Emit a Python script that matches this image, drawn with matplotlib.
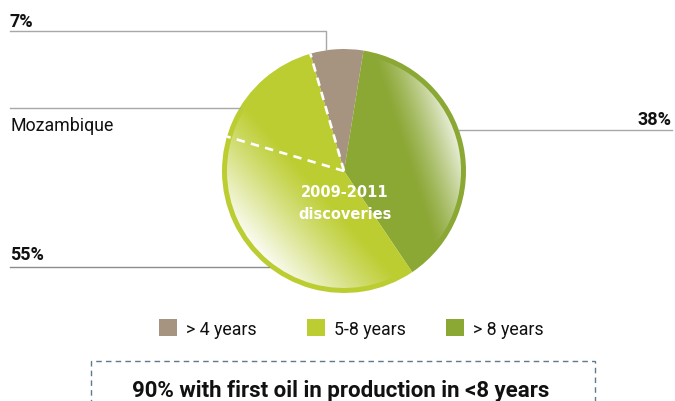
import numpy as np
import matplotlib
matplotlib.use("Agg")
import matplotlib.pyplot as plt
from matplotlib.patches import Wedge, Rectangle

# ---- data ----
categories = ["> 4 years", "> 8 years", "5-8 years"]
legend_order = ["> 4 years", "5-8 years", "> 8 years"]
values = [7, 38, 55]
pct_labels = ["7%", "38%", "55%"]
mozambique_share = 16  # part of the 5-8 years slice, adjacent to > 4 years
colors = {"> 4 years": "#A69480", "> 8 years": "#8BA734", "5-8 years": "#BCCD31"}
center_text = "2009-2011\ndiscoveries"
box_text = "90% with first oil in production in <8 years"

W, H = 675, 401

fig = plt.figure(figsize=(W / 100, H / 100), dpi=100)
ax = fig.add_axes([0, 0, 1, 1])

def Y(y):
    return H - y

cx, cy, R = 344, Y(171), 122
r_in = R - 5
start = 106

wedges, _ = ax.pie(values, colors=[colors[c] for c in categories], startangle=start,
                   counterclock=False, center=(cx, cy), radius=R,
                   wedgeprops=dict(linewidth=0))

# gradient highlights (decoration)
n = 600
xs = np.linspace(-1, 1, n)
U, V = np.meshgrid(xs, xs[::-1])

def overlay(w, alpha):
    img = np.ones((n, n, 4))
    img[..., 3] = alpha
    im = ax.imshow(img, extent=[cx - R, cx + R, cy - R, cy + R], zorder=3,
                   interpolation="bilinear")
    clip = Wedge((cx, cy), r_in, w.theta1, w.theta2, transform=ax.transData)
    im.set_clip_path(clip)

# light green: white towards lower-left
proj = -(0.75 * U + 0.66 * V)
overlay(wedges[2], np.clip((proj - 0.25) / 0.75, 0, 1) ** 1.1)
# dark green: white towards right rim
proj2 = 0.93 * U + 0.3 * V
overlay(wedges[1], 0.9 * np.clip((proj2 - 0.5) / 0.48, 0, 1) ** 1.3)

# dashed white lines
def radial(theta):
    t = np.deg2rad(theta)
    ax.plot([cx, cx + R * np.cos(t)], [cy, cy + R * np.sin(t)], color="white",
            lw=1.9, dashes=(3.2, 2.4), zorder=4, dash_capstyle="butt")

radial(start)
radial(start + mozambique_share / 100 * 360)

# leader lines
lc = "#A8A8A8"
def edge_x(y_top, side):
    dy = Y(y_top) - cy
    return cx + side * np.sqrt(R ** 2 - dy ** 2)

def edge_y(x):
    dx = x - cx
    return cy + np.sqrt(R ** 2 - dx ** 2)

ax.plot([10, 326, 326], [Y(31), Y(31), edge_y(326)], color=lc, lw=1, zorder=1)
ax.plot([10, edge_x(108, -1)], [Y(108), Y(108)], color=lc, lw=1, zorder=1)
ax.plot([edge_x(130, 1), 672], [Y(130), Y(130)], color=lc, lw=1, zorder=1)
ax.plot([10, edge_x(267, -1)], [Y(267), Y(267)], color="#8C8C8C", lw=1, zorder=1)

tc = "#111111"
pf = dict(fontsize=13, fontweight="bold", family="Roboto", color=tc, va="baseline")
ax.text(10, Y(27), pct_labels[0], ha="left", **pf)
ax.text(672, Y(125), pct_labels[1], ha="right", **pf)
ax.text(10, Y(260), pct_labels[2], ha="left", **pf)
ax.text(11, Y(131), "Mozambique", fontsize=12.8, family="Roboto", color=tc,
        va="baseline", ha="left")

# center text
lines = center_text.split("\n")
ax.text(345, Y(197), lines[0], fontsize=10.5, fontweight="bold",
        family="DejaVu Sans", color="white", ha="center", va="baseline", zorder=5)
ax.text(345, Y(219), lines[1], fontsize=10.5, fontweight="bold",
        family="DejaVu Sans", color="white", ha="center", va="baseline", zorder=5)

# legend
sq_x = [159, 307, 446]
for x0, lab in zip(sq_x, legend_order):
    ax.add_patch(Rectangle((x0, Y(336)), 18, 17, color=colors[lab], lw=0))
    ax.text(x0 + 27, Y(335), lab, fontsize=12.8, family="Roboto", color=tc,
            ha="left", va="baseline")

# dashed box
ax.add_patch(Rectangle((91, Y(430)), 504, 69, fill=False, edgecolor="#5F7A8C",
                       lw=1, linestyle=(0, (4, 3))))
ax.text(340.5, Y(397), box_text, fontsize=16, fontweight="bold", family="Roboto",
        color=tc, ha="center", va="baseline")

ax.set_xlim(0, W)
ax.set_ylim(0, H)
ax.set_aspect("auto")
ax.axis("off")
fig.savefig("out.png", dpi=100)
